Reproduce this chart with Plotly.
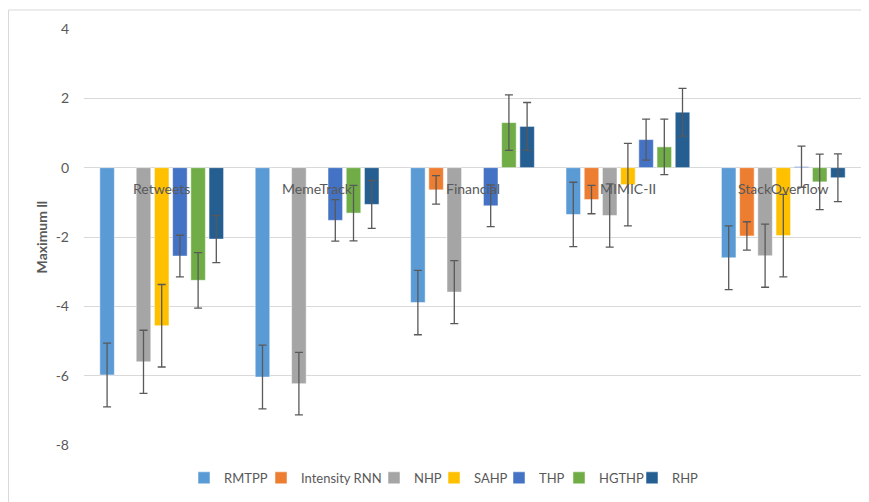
import plotly.graph_objects as go

categories = ["Retweets", "MemeTrack", "Financial", "MIMIC-II", "StackOverflow"]
series = ["RMTPP", "Intensity RNN", "NHP", "SAHP", "THP", "HGTHP", "RHP"]
colors = ["#5B9BD5", "#ED7D31", "#A5A5A5", "#FFC000", "#4472C4", "#70AD47", "#255E91"]

rmtpp = [-5.98, -6.04, -3.89, -1.35, -2.60]
intensity_rnn = [None, None, -0.64, -0.92, -1.97]
nhp = [-5.60, -6.23, -3.59, -1.38, -2.54]
sahp = [-4.56, None, None, -0.49, -1.96]
thp = [-2.55, -1.52, -1.10, 0.81, 0.03]
hgthp = [-3.25, -1.31, 1.30, 0.60, -0.41]
rhp = [-2.06, -1.06, 1.19, 1.60, -0.29]

err_rmtpp = [0.92, 0.92, 0.93, 0.93, 0.92]
err_intensity_rnn = [0.41, 0.41, 0.41, 0.41, 0.41]
err_nhp = [0.91, 0.90, 0.91, 0.91, 0.91]
err_sahp = [1.19, 1.19, 1.19, 1.19, 1.19]
err_thp = [0.60, 0.60, 0.60, 0.59, 0.59]
err_hgthp = [0.80, 0.80, 0.80, 0.80, 0.80]
err_rhp = [0.68, 0.69, 0.69, 0.69, 0.69]

values = [rmtpp, intensity_rnn, nhp, sahp, thp, hgthp, rhp]
errors = [err_rmtpp, err_intensity_rnn, err_nhp, err_sahp, err_thp, err_hgthp, err_rhp]

yticks = [-8, -6, -4, -2, 0, 2, 4]

FONT = "Lato"
GRAY = "#595959"

# figure geometry (page is offset by 8px body margin)
W, H = 861, 494
ML, MR, MT, MB = 76, 8, 21, 57
PW = W - ML - MR
PH = H - MT - MB
PAGE_OFF = 8

# legend symbol centre positions (page px) for each series
legend_marker_px = [203, 280, 393, 453, 518, 578, 651]

fig = go.Figure()
for i, (name, vals, errs, col) in enumerate(zip(series, values, errors, colors)):
    errs_use = [e if v is not None else None for v, e in zip(vals, errs)]
    lg = "legend" if i == 0 else f"legend{i + 1}"
    fig.add_trace(go.Bar(
        name=name, x=categories, y=vals, legend=lg,
        marker=dict(color=col, line=dict(color="white", width=0.5)),
        error_y=dict(type="data", array=errs_use, visible=True, color=GRAY, thickness=1.3, width=4),
    ))

for c in categories:
    fig.add_annotation(x=c, y=0, xref="x", yref="y", text=c, showarrow=False,
                       yanchor="top", yshift=-10, font=dict(family=FONT, size=14, color=GRAY))

fig.add_shape(type="rect", xref="paper", yref="paper",
              x0=-(ML - 0.5) / PW, x1=1.05, y0=-0.2, y1=1 + (MT - 2) / PH,
              line=dict(color="#D9D9D9", width=1), fillcolor="rgba(0,0,0,0)", layer="below")

legends = {}
for i, px in enumerate(legend_marker_px):
    key = "legend" if i == 0 else f"legend{i + 1}"
    legends[key] = dict(
        orientation="h", x=(px - 19 - PAGE_OFF - ML) / PW, xanchor="left",
        y=-0.079, yanchor="middle", bgcolor="rgba(0,0,0,0)",
        font=dict(family=FONT, size=13, color=GRAY), itemwidth=30,
    )

fig.update_layout(
    width=W, height=H,
    margin=dict(l=ML, r=MR, t=MT, b=MB),
    paper_bgcolor="white", plot_bgcolor="white",
    barmode="group", bargap=0.18, bargroupgap=0.2,
    font=dict(family=FONT, size=13, color=GRAY),
    showlegend=True,
    xaxis=dict(showticklabels=False, showgrid=False, zeroline=False, showline=False, ticks=""),
    yaxis=dict(range=[-8, 4], tickvals=yticks, ticktext=[str(t) for t in yticks],
               showgrid=True, gridcolor="#D9D9D9", gridwidth=1, zeroline=False,
               tickfont=dict(family=FONT, size=14, color=GRAY), ticklabelstandoff=14,
               title=dict(text="<b>Maximum ll</b>", font=dict(family=FONT, size=14, color=GRAY), standoff=4)),
    **legends,
)

fig.write_html("out.html")
